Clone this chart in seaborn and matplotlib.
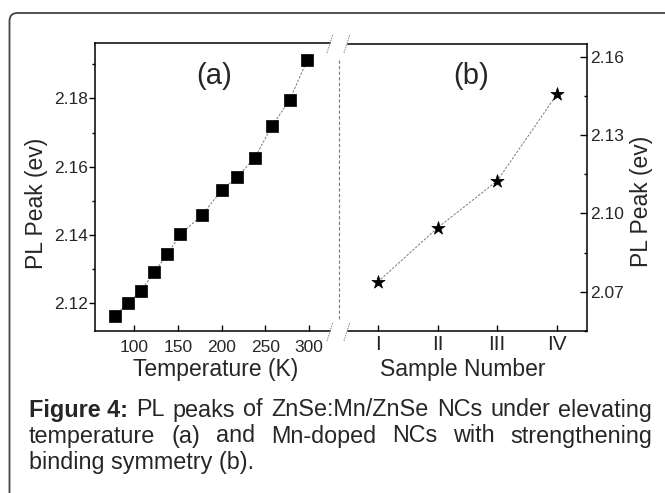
import matplotlib
matplotlib.use("Agg")
import matplotlib.pyplot as plt
import seaborn as sns
import pandas as pd
from matplotlib.patches import FancyBboxPatch
from matplotlib.lines import Line2D
from matplotlib.transforms import IdentityTransform
from matplotlib.ticker import MultipleLocator, FixedLocator

# ---------------- data ----------------
temperature_K = [78, 93, 108, 123, 138, 153, 178, 200, 218, 238, 258, 278, 298]
pl_peak_a = [2.1164, 2.1201, 2.1237, 2.1291, 2.1344, 2.1402, 2.1459,
             2.1531, 2.1570, 2.1626, 2.1720, 2.1796, 2.1912]
sample_labels = ["I", "II", "III", "IV"]
sample_pos = [1, 2, 3, 4]
pl_peak_b = [2.0738, 2.0945, 2.1125, 2.1456]
temp_ticks = [100, 150, 200, 250, 300]
yticks_a = [2.12, 2.14, 2.16, 2.18]
yticks_b = [2.07, 2.10, 2.13, 2.16]

caption_line1 = [("Figure 4:", "bold"), ("PL", "normal"), ("peaks", "normal"), ("of", "normal"),
                 ("ZnSe:Mn/ZnSe", "normal"), ("NCs", "normal"), ("under", "normal"),
                 ("elevating", "normal")]
caption_line2 = ["temperature", "(a)", "and", "Mn-doped", "NCs", "with", "strengthening"]
caption_line3 = "binding symmetry (b)."

# ---------------- style ----------------
sns.set_style("ticks")
plt.rcParams["font.family"] = ["Liberation Sans", "DejaVu Sans"]
plt.rcParams["axes.linewidth"] = 1.1

W, H = 665, 493
fig = plt.figure(figsize=(W / 100, H / 100), dpi=100)
fig.patch.set_facecolor("white")


def ax_rect(l, t, r, b):
    return [l / W, 1 - b / H, (r - l) / W, (b - t) / H]


ax1 = fig.add_axes(ax_rect(95, 43, 330, 330.7))
ax2 = fig.add_axes(ax_rect(348, 44, 586.7, 331))

line_kw = dict(color="#7a7a7a", linestyle=(0, (2.5, 1.5)), linewidth=0.7)

df_a = pd.DataFrame({"T": temperature_K, "peak": pl_peak_a})
sns.lineplot(data=df_a, x="T", y="peak", ax=ax1, **line_kw)
sns.scatterplot(data=df_a, x="T", y="peak", ax=ax1, marker="s", s=64,
                color="black", edgecolor="black", linewidth=0.5, zorder=3)

df_b = pd.DataFrame({"pos": sample_pos, "peak": pl_peak_b})
sns.lineplot(data=df_b, x="pos", y="peak", ax=ax2, **line_kw)
sns.scatterplot(data=df_b, x="pos", y="peak", ax=ax2, marker="*", s=100,
                color="black", edgecolor="black", linewidth=0.5, zorder=3)

# ---- axes (a)
ax1.set_xlim(55.4, 324)
ax1.set_ylim(2.112, 2.1962)
ax1.xaxis.set_major_locator(FixedLocator(temp_ticks))
ax1.yaxis.set_major_locator(FixedLocator(yticks_a))
ax1.yaxis.set_minor_locator(MultipleLocator(0.01))
ax1.set_yticklabels([f"{v:.2f}" for v in yticks_a])
ax1.spines["right"].set_visible(False)
for s in ["left", "bottom", "top"]:
    ax1.spines[s].set_visible(True)
    ax1.spines[s].set_color("black")
ax1.tick_params(axis="y", which="major", direction="out", length=4.5, width=1,
                labelsize=12.5, pad=0.8, color="black", left=True)
ax1.tick_params(axis="y", which="minor", direction="out", length=2.4, width=1,
                color="black", left=True)
ax1.tick_params(axis="x", which="major", direction="in", length=4.3, width=1,
                labelsize=12.5, pad=6.5, color="black", bottom=True)
ax1.set_xlabel("Temperature (K)", fontsize=16.5)
ax1.set_ylabel("PL Peak (ev)", fontsize=16.5)
ax1.xaxis.set_label_coords(0.515, -0.095)
ax1.yaxis.set_label_coords(-0.2, 0.442)
ax1.text(0.506, 0.885, "(a)", transform=ax1.transAxes, ha="center", va="center",
         fontsize=21)

# ---- axes (b)
ax2.set_xlim(0.5, 4.5)
ax2.set_ylim(2.055, 2.1649)
ax2.xaxis.set_major_locator(FixedLocator(sample_pos))
ax2.set_xticklabels(sample_labels)
ax2.yaxis.set_major_locator(FixedLocator(yticks_b))
ax2.yaxis.set_minor_locator(MultipleLocator(0.015))
ax2.set_yticklabels([f"{v:.2f}" for v in yticks_b])
ax2.yaxis.tick_right()
ax2.yaxis.set_label_position("right")
ax2.spines["left"].set_visible(False)
for s in ["right", "bottom", "top"]:
    ax2.spines[s].set_visible(True)
    ax2.spines[s].set_color("black")
ax2.tick_params(axis="y", which="major", direction="in", length=4.8, width=1,
                labelsize=12.5, pad=2.5, color="black", right=True, left=False)
ax2.tick_params(axis="y", which="minor", direction="in", length=2.4, width=1,
                color="black", right=True, left=False)
ax2.tick_params(axis="x", which="major", direction="in", length=4.3, width=1,
                labelsize=15, pad=3.2, color="black", bottom=True)
ax2.set_xlabel("Sample Number", fontsize=16.5)
ax2.set_ylabel("PL Peak (ev)", fontsize=16.5)
ax2.xaxis.set_label_coords(0.482, -0.095)
ax2.yaxis.set_label_coords(1.181, 0.451)
ax2.text(0.515, 0.889, "(b)", transform=ax2.transAxes, ha="center", va="center",
         fontsize=21)

# ---------------- decorations (pixel coords, y from top) ----------------
ident = IdentityTransform()


def pline(xs, ys, **kw):
    fig.add_artist(Line2D(xs, [H - y for y in ys], transform=ident, **kw))


brk = dict(color="#8a8a8a", linestyle=(0, (1.2, 1.0)), linewidth=0.8)
for xc in (330, 347):
    pline([xc - 3, xc + 3], [53, 34], **brk)
    pline([xc - 3, xc + 3], [341, 322], **brk)
pline([339.3, 339.3], [60, 320], color="#7a7a7a", linestyle=(0, (3, 2)), linewidth=0.8)

border = FancyBboxPatch((9.5, -40), 720, (H - 13) + 40,
                        boxstyle="round,pad=0,rounding_size=8",
                        transform=ident, facecolor="none", edgecolor="#444444",
                        linewidth=1.3)
fig.add_artist(border)

# ---------------- caption ----------------
fig.canvas.draw()
renderer = fig.canvas.get_renderer()
CAP_SIZE = 16.8
X0, X1 = 29, 652


def justify(tokens, y_px):
    texts = []
    for s, w in tokens:
        texts.append(fig.text(0, 1 - y_px / H, s, fontsize=CAP_SIZE, fontweight=w,
                              ha="left", va="center"))
    widths = [t.get_window_extent(renderer=renderer).width for t in texts]
    gap = (X1 - X0 - sum(widths)) / (len(texts) - 1)
    x = X0
    for t, wd in zip(texts, widths):
        t.set_x(x / W)
        x += wd + gap


justify(caption_line1, 410)
justify([(w, "normal") for w in caption_line2], 436)
fig.text(X0 / W, 1 - 462 / H, caption_line3, fontsize=CAP_SIZE, ha="left", va="center")

fig.savefig("out.png", dpi=100)
